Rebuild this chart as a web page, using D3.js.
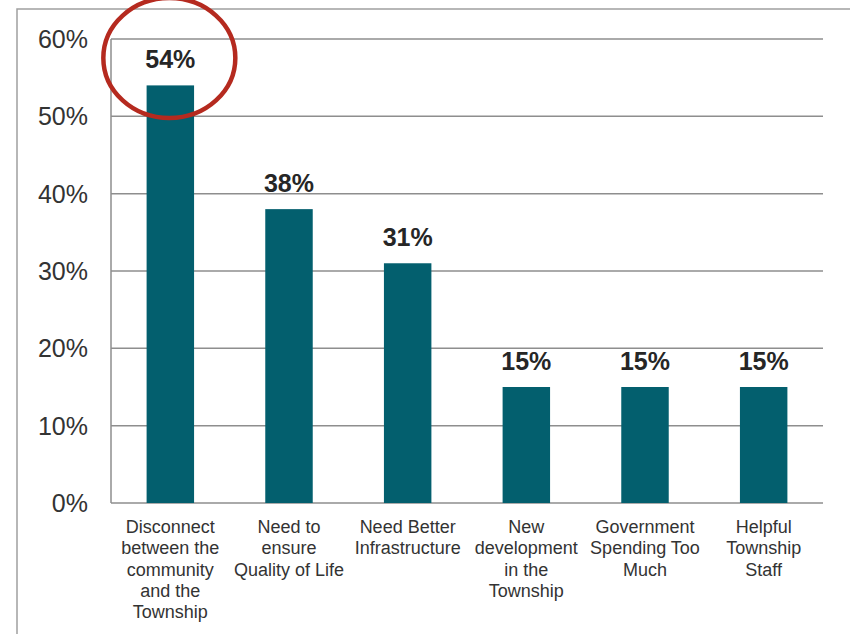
<!DOCTYPE html>
<html>
<head>
<meta charset="utf-8">
<script src="https://cdn.jsdelivr.net/npm/d3@7"></script>
<style>
  body { margin: 0; background: #fff; }
  svg { display: block; font-family: "Liberation Sans", Arial, sans-serif; }
</style>
</head>
<body>
<svg width="850" height="634"></svg>
<script>
var categories = [
    ["Disconnect", "between the", "community", "and the", "Township"],
    ["Need to", "ensure", "Quality of Life"],
    ["Need Better", "Infrastructure"],
    ["New", "development", "in the", "Township"],
    ["Government", "Spending Too", "Much"],
    ["Helpful", "Township", "Staff"]
];
var values = [54, 38, 31, 15, 15, 15];
var yTicks = [0, 10, 20, 30, 40, 50, 60];

var svg = d3.select("svg");
var PLOT_L = 111, PLOT_R = 823, PLOT_T = 39, PLOT_B = 503;

// outer frame
svg.append("path")
    .attr("d", "M17,634 V9 H850")
    .style("fill", "none")
    .style("stroke", "#a0a0a0")
    .style("stroke-width", "1.5px");

var x = d3.scaleBand()
    .domain(d3.range(categories.length))
    .range([PLOT_L, PLOT_R])
    .paddingInner(0.6)
    .paddingOuter(0.3);

var y = d3.scaleLinear()
    .domain([0, 60])
    .range([PLOT_B, PLOT_T]);

//gridlines
svg.selectAll(".grid")
    .data(yTicks)
    .enter()
    .append("line")
    .attr("x1", PLOT_L)
    .attr("x2", PLOT_R)
    .attr("y1", function(d){ return y(d); })
    .attr("y2", function(d){ return y(d); })
    .style("stroke", "#8e8e8e")
    .style("stroke-width", "1.5px");

svg.append("line")
    .attr("x1", PLOT_L).attr("x2", PLOT_L)
    .attr("y1", PLOT_T).attr("y2", PLOT_B)
    .style("stroke", "#8e8e8e")
    .style("stroke-width", "1.5px");

//y tick labels
svg.selectAll(".ytick")
    .data(yTicks)
    .enter()
    .append("text")
    .attr("x", 88)
    .attr("y", function(d){ return y(d) + 9; })
    .attr("text-anchor", "end")
    .style("font-size", "25px")
    .style("fill", "#333")
    .text(function(d){ return d + "%"; });

//bars
svg.selectAll(".bar")
    .data(values)
    .enter()
    .append("rect")
    .attr("x", function(d, i){ return x(i); })
    .attr("width", x.bandwidth())
    .attr("y", function(d){ return y(d); })
    .attr("height", function(d){ return PLOT_B - y(d); })
    .style("fill", "#035f6e");

//value labels
svg.selectAll(".val")
    .data(values)
    .enter()
    .append("text")
    .attr("x", function(d, i){ return x(i) + x.bandwidth() / 2; })
    .attr("y", function(d){ return y(d) - 17; })
    .attr("text-anchor", "middle")
    .style("font-size", "25px")
    .style("font-weight", "bold")
    .style("fill", "#262626")
    .text(function(d){ return d + "%"; });

//category labels
var labels = svg.selectAll(".cat")
    .data(categories)
    .enter()
    .append("text")
    .attr("text-anchor", "middle")
    .style("font-size", "18px")
    .style("fill", "#333");

labels.each(function(lines, i){
    var t = d3.select(this);
    lines.forEach(function(line, k){
        t.append("tspan")
            .attr("x", x(i) + x.bandwidth() / 2)
            .attr("y", 533 + k * 21.3)
            .text(line);
    });
});

//highlight circle round the top bar
svg.append("ellipse")
    .attr("cx", x(0) + x.bandwidth() / 2 - 1)
    .attr("cy", 58)
    .attr("rx", 66)
    .attr("ry", 60)
    .style("fill", "none")
    .style("stroke", "#b52a1f")
    .style("stroke-width", "4.5px");
</script>
</body>
</html>
